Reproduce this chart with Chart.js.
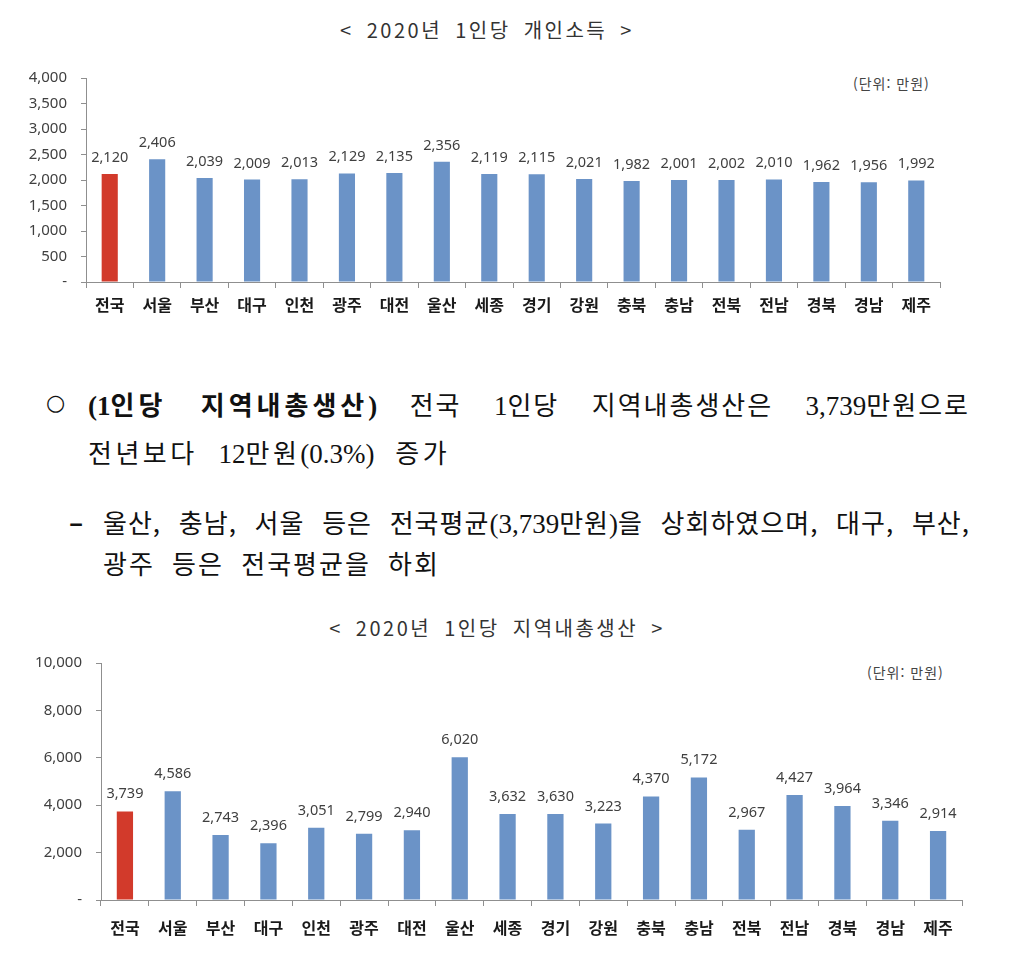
<!DOCTYPE html>
<html lang="ko">
<head>
<meta charset="utf-8">
<title>2020년 1인당 개인소득 · 지역내총생산</title>
<script src="https://cdn.jsdelivr.net/npm/chart.js@4.4.1/dist/chart.umd.min.js"></script>
<style>
  html, body { margin: 0; padding: 0; background: #fff; }
  body { width: 1029px; height: 962px; position: relative; overflow: hidden; font-family: "Noto Sans CJK KR", sans-serif; }
  .abs { position: absolute; white-space: nowrap; }
  .title { font-size: 20px; color: #333; letter-spacing: 2.5px; word-spacing: 5px; line-height: 24px; text-align: center; }
  .unit { font-size: 14px; color: #444; line-height: 16px; letter-spacing: 1px; }
  .chart { position: absolute; left: 0; width: 1029px; }
  .txt { font-family: "Noto Sans CJK KR", sans-serif; font-size: 26px; letter-spacing: 2px; word-spacing: 10px; color: #111; line-height: 34px; }
  .txt .n { font-family: "Liberation Serif", serif; font-size: 27px; letter-spacing: 0; }
  .txt b { letter-spacing: 4px; }
  .just { white-space: normal; text-align: justify; text-align-last: justify; word-spacing: 0; }
</style>
</head>
<body>

<div class="abs title" style="left:287px; width:400px; top:18px;">&lt; 2020년 1인당 개인소득 &gt;</div>
<div class="abs unit" style="left:853px; top:75px;">(단위: 만원)</div>
<div class="chart" style="top:55px; height:267px;"><canvas id="income-chart"></canvas></div>

<div class="abs txt" style="left:46px; top:386px; font-family:'DejaVu Sans'; font-size:22px; letter-spacing:0;">○</div>
<div class="abs txt just" style="left:88px; width:882px; top:387px;"><b><span class="n">(1</span>인당 지역내총생산<span class="n">)</span></b> 전국 <span class="n">1</span>인당 지역내총생산은 <span class="n">3,739</span>만원으로</div>
<div class="abs txt" style="left:88px; top:435px; letter-spacing:3.5px;">전년보다 <span class="n">12</span>만원<span class="n">(0.3%)</span> 증가</div>

<div class="abs txt" style="left:69px; top:504px; font-weight:bold; letter-spacing:0; font-size:26px;">–</div>
<div class="abs txt just" style="left:103px; width:867px; top:505px; letter-spacing:1px;">울산, 충남, 서울 등은 전국평균<span class="n">(3,739</span>만원<span class="n">)</span>을 상회하였으며, 대구, 부산,</div>
<div class="abs txt" style="left:103px; top:546px; letter-spacing:2px; word-spacing:8px;">광주 등은 전국평균을 하회</div>

<div class="abs title" style="left:297px; width:400px; top:616px;">&lt; 2020년 1인당 지역내총생산 &gt;</div>
<div class="abs unit" style="left:867px; top:664px;">(단위: 만원)</div>
<div class="chart" style="top:640px; height:310px;"><canvas id="grdp-chart"></canvas></div>

<script>
(function () {

    // 시도별 데이터 (단위: 만원)
    const regions = ['전국', '서울', '부산', '대구', '인천', '광주', '대전', '울산', '세종',
                     '경기', '강원', '충북', '충남', '전북', '전남', '경북', '경남', '제주'];
    const incomeValues = [2120, 2406, 2039, 2009, 2013, 2129, 2135, 2356, 2119,
                          2115, 2021, 1982, 2001, 2002, 2010, 1962, 1956, 1992];
    const grdpValues = [3739, 4586, 2743, 2396, 3051, 2799, 2940, 6020, 3632,
                        3630, 3223, 4370, 5172, 2967, 4427, 3964, 3346, 2914];
    const incomeTicks = [0, 500, 1000, 1500, 2000, 2500, 3000, 3500, 4000];
    const grdpTicks = [0, 2000, 4000, 6000, 8000, 10000];

    const RED = '#d23a2b';
    const BLUE = '#6b93c7';
    const AXIS = '#8f8f8f';

    const fmt = v => v === 0 ? '-' : v.toLocaleString('en-US');

    // 막대 위 값 표시
    const valueLabels = {
        id: 'valueLabels',
        afterDatasetsDraw(chart, args, opts) {
            const ctx = chart.ctx;
            const data = chart.data.datasets[0].data;
            ctx.save();
            ctx.font = '14.5px "Noto Sans", sans-serif';
            ctx.fillStyle = '#404040';
            ctx.textAlign = 'center';
            ctx.textBaseline = 'alphabetic';
            chart.getDatasetMeta(0).data.forEach((bar, i) => {
                ctx.fillText(fmt(data[i]), bar.x, bar.y - opts.offset);
            });
            ctx.restore();
        }
    };

    function crearGrafica(id, values, ticks, box) {
        const ctx = document.getElementById(id).getContext('2d');
        return new Chart(ctx, {
            type: 'bar',
            data: {
                labels: regions,
                datasets: [{
                    label: '',
                    data: values,
                    backgroundColor: regions.map(r => r === '전국' ? RED : BLUE),
                    barPercentage: 0.34,
                    categoryPercentage: 1
                }]
            },
            options: {
                responsive: true,
                maintainAspectRatio: false,
                animation: false,
                layout: { padding: { top: box.top, right: box.right, left: 0, bottom: 0 } },
                scales: {
                    x: {
                        afterFit: s => { s.height = box.xHeight; },
                        grid: { drawOnChartArea: false, offset: true, tickLength: 6, color: AXIS },
                        border: { color: AXIS },
                        ticks: {
                            padding: box.xPad,
                            color: '#1a1a1a',
                            font: { family: '"Noto Sans CJK KR", sans-serif', size: 16, weight: 'bold' },
                            maxRotation: 0,
                            autoSkip: false
                        }
                    },
                    y: {
                        min: ticks[0],
                        max: ticks[ticks.length - 1],
                        afterFit: s => { s.width = box.yWidth; },
                        afterBuildTicks: s => { s.ticks = ticks.map(v => ({ value: v })); },
                        grid: { drawOnChartArea: false, tickLength: 5, color: AXIS },
                        border: { color: AXIS },
                        ticks: {
                            padding: 14,
                            color: '#404040',
                            font: { family: '"Noto Sans", sans-serif', size: 15 },
                            callback: v => fmt(v)
                        }
                    }
                },
                plugins: {
                    legend: { display: false },
                    tooltip: { enabled: false },
                    valueLabels: { offset: box.labelOffset }
                }
            },
            plugins: [valueLabels]
        });
    }

    crearGrafica('income-chart', incomeValues, incomeTicks,
        { top: 20, right: 89, yWidth: 86, xHeight: 40, xPad: 7, labelOffset: 12 });
    crearGrafica('grdp-chart', grdpValues, grdpTicks,
        { top: 22, right: 67, yWidth: 101, xHeight: 50, xPad: 12, labelOffset: 13 });

})();
</script>
</body>
</html>
